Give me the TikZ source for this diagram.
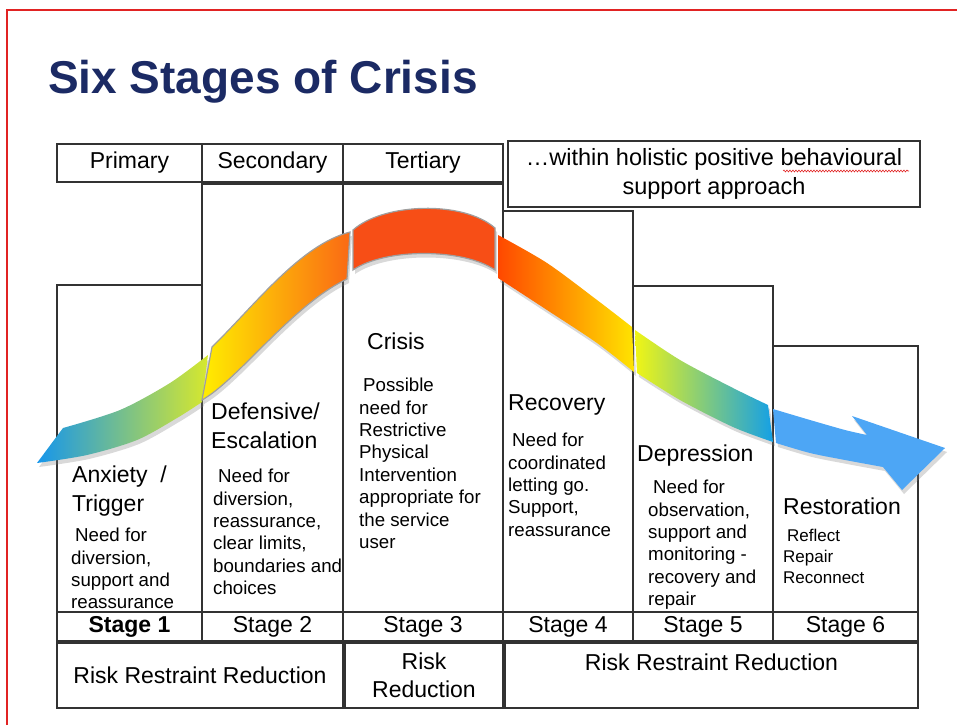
\documentclass[tikz,border=0pt]{standalone}
\usepackage{fontspec}
\setmainfont{Liberation Sans}
\usepackage{tikz}
\usetikzlibrary{positioning}
\usetikzlibrary{shadows}
\usetikzlibrary{decorations.pathmorphing}

\definecolor{titleblue}{RGB}{27,42,100}
\definecolor{edge}{RGB}{50,50,50}
\definecolor{framered}{RGB}{225,35,35}
\definecolor{ribblue}{RGB}{22,150,235}
\definecolor{ribgreen}{RGB}{215,232,45}
\definecolor{ribyellow}{RGB}{255,238,0}
\definecolor{ribamber}{RGB}{250,105,20}
\definecolor{ribred}{RGB}{247,78,22}
\definecolor{ribred2}{RGB}{255,72,0}
\definecolor{ribyellow2}{RGB}{255,228,0}
\definecolor{ribyellow3}{RGB}{240,245,20}
\definecolor{ribgreen2}{RGB}{140,210,110}
\definecolor{ribblue2}{RGB}{20,160,230}
\definecolor{ribsky}{RGB}{77,166,245}

\begin{document}
\begin{tikzpicture}[x=1pt,y=-1pt,
  cell/.style={draw=edge,line width=1.4pt,anchor=north west,inner sep=0pt,outer sep=0pt,
    align=center,font=\fontsize{23}{28}\selectfont},
  heading/.style={anchor=north west,inner sep=0pt,align=left,font=\fontsize{23}{29}\selectfont},
  body/.style={anchor=north west,inner sep=0pt,align=left,font=\fontsize{18.7}{22.4}\selectfont},
  band/.style={drop shadow={shadow xshift=2pt,shadow yshift=-4pt,opacity=.3}},
  rim/.style={draw=gray!75,line width=1.2pt}]
  \useasboundingbox (0,0) rectangle (957,725);

  % slide frame and title
  \draw[framered,line width=1.3pt] (7,725) -- (7,10) -- (957,10);
  \node[anchor=base west,inner sep=0pt,text=titleblue,
    font=\fontsize{46}{50}\selectfont\bfseries] (title) at (48,93) {Six Stages of Crisis};

  % header row
  \node[cell,minimum width=145pt,minimum height=38pt] (prim) at (57,144) {Primary};
  \node[cell,minimum width=141pt,minimum height=38pt,right=0pt of prim] (sec) {Secondary};
  \node[cell,minimum width=160pt,minimum height=38pt,right=0pt of sec] (ter) {Tertiary};
  \node[cell,minimum width=412pt,minimum height=66pt,font=\fontsize{23.5}{29}\selectfont]
    (note) at (508,141) {…within holistic positive behavioural\\support approach};
  \draw[framered,line width=.6pt,decorate,decoration={snake,amplitude=.9pt,segment length=3pt}]
    (783,171) -- (909,171);

  % stage columns
  \node[cell,minimum width=145pt,minimum height=327pt] (col1) at (57,285) {};
  \node[cell,minimum width=141pt,minimum height=428pt] (col2) at (202,184) {};
  \node[cell,minimum width=160pt,minimum height=428pt] (col3) at (343,184) {};
  \node[cell,minimum width=130pt,minimum height=401pt] (col4) at (503,211) {};
  \node[cell,minimum width=140pt,minimum height=326pt] (col5) at (633,286) {};
  \node[cell,minimum width=145pt,minimum height=266pt] (col6) at (773,346) {};

  % stage numbers
  \node[cell,minimum width=145pt,minimum height=29pt] (st1) at (57,612) {\textbf{Stage 1}};
  \node[cell,minimum width=141pt,minimum height=29pt,right=0pt of st1] (st2) {Stage 2};
  \node[cell,minimum width=160pt,minimum height=29pt,right=0pt of st2] (st3) {Stage 3};
  \node[cell,minimum width=130pt,minimum height=29pt,right=0pt of st3] (st4) {Stage 4};
  \node[cell,minimum width=140pt,minimum height=29pt,right=0pt of st4] (st5) {Stage 5};
  \node[cell,minimum width=145pt,minimum height=29pt,right=0pt of st5] (st6) {Stage 6};

  % reduction row
  \node[cell,minimum width=286pt,minimum height=65pt] (rr1) at (57,643) {Risk Restraint Reduction};
  \node[cell,minimum width=158pt,minimum height=65pt] (rr2) at (345,643) {Risk\\Reduction};
  \node[cell,minimum width=413pt,minimum height=65pt] (rr3) at (505,643) {};
  \node[inner sep=0pt,font=\fontsize{23}{28}\selectfont,below=11pt of rr3.north] (rr3t) {Risk Restraint Reduction};

  % the crisis curve
  \shade[band,left color=ribblue,right color=ribgreen]
    plot[smooth] coordinates {(63,428) (120,410) (170,383) (208,355)}
    -- plot[smooth] coordinates {(202,402) (177,418) (137,440) (87,455) (37,463)} -- cycle;
  \shade[band,rim,left color=ribyellow,right color=ribamber]
    (212,347) .. controls (255,305) and (300,245) .. (350,232)
    -- (347,279) .. controls (292,305) and (238,380) .. (202,400) -- cycle;
  \fill[band,rim,fill=ribred]
    (353,230) .. controls (383,203) and (463,200) .. (495,228)
    -- (495,270) .. controls (463,248) and (385,248) .. (353,270) -- cycle;
  \shade[band,left color=ribred2,right color=ribyellow2]
    plot[smooth] coordinates {(498,235) (547,263) (597,300) (632,327)}
    -- plot[smooth] coordinates {(634,372) (597,343) (547,310) (498,278)} -- cycle;
  \shade[band,left color=ribyellow3,middle color=ribgreen2,right color=ribblue2]
    plot[smooth] coordinates {(635,330) (680,360) (733,388) (768,405)}
    -- plot[smooth] coordinates {(773,442) (733,427) (680,400) (637,373)} -- cycle;
  \fill[band,ribsky]
    plot[smooth] coordinates {(773,409) (810,420) (845,430) (867,435)}
    -- (852,416) -- (945,448) -- (902,490)
    -- plot[smooth] coordinates {(883,467) (845,460) (810,453) (776,443)} -- cycle;

  % column texts
  \node[heading] (h1) at (72,466) {Anxiety~~/\\Trigger};
  \node[body] (b1) at (71,528) {\hspace*{4pt}Need for\\diversion,\\support and\\reassurance};
  \node[heading] (h2) at (211,403) {Defensive/\\Escalation};
  \node[body] (b2) at (213,469) {\hspace*{5pt}Need for\\diversion,\\reassurance,\\clear limits,\\boundaries and\\choices};
  \node[heading] (h3) at (367,333) {Crisis};
  \node[body] (b3) at (359,378) {\hspace*{4pt}Possible\\need for\\Restrictive\\Physical\\Intervention\\appropriate for\\the service\\user};
  \node[heading] (h4) at (508,394) {Recovery};
  \node[body] (b4) at (508,433) {\hspace*{4pt}Need for\\coordinated\\letting go.\\Support,\\reassurance};
  \node[heading] (h5) at (637,445) {Depression};
  \node[body] (b5) at (648,480) {\hspace*{5pt}Need for\\observation,\\support and\\monitoring -\\recovery and\\repair};
  \node[heading] (h6) at (783,498) {Restoration};
  \node[body,font=\fontsize{17}{21}\selectfont] (b6) at (783,529) {\hspace*{4pt}Reflect\\Repair\\Reconnect};
\end{tikzpicture}
\end{document}
